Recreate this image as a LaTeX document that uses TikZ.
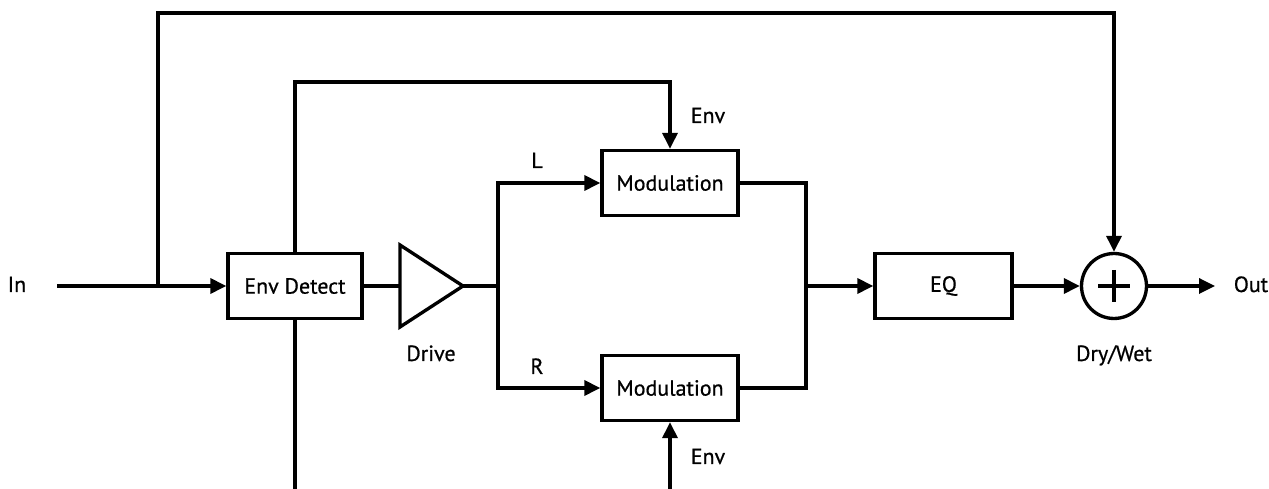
\documentclass[tikz,border=0pt]{standalone}
\usepackage{fontspec}
\setmainfont{PT Sans}[UprightFeatures={FakeBold=0.7}]
\usepackage{tikz}
\usetikzlibrary{positioning, arrows.meta, calc}

\tikzstyle{blk}=[%
      rectangle, draw=black, line width=1.9pt, fill=white,
      minimum height=1.3cm, minimum width=2.72cm, inner sep=0pt
]
\tikzstyle{sum}=[%
      circle, draw=black, line width=1.9pt, fill=white,
      minimum size=1.3cm, inner sep=0pt
]
\tikzstyle{lbl}=[%
      anchor=base, inner sep=0pt
]

\begin{document}
\begin{tikzpicture}[
    x=0.02cm, y=-0.02cm,
    line width=1.9pt,
    >={Triangle[length=0.32cm, width=0.3cm]},
    font=\fontsize{12.5}{15}\selectfont,
]
    \useasboundingbox[fill=white] (0,0) rectangle (1269,489);

    % blocks
    \node[blk, minimum width=2.68cm] (det)  at (295,286)    {Env Detect};
    \node[blk]                       (modL) at (670,183)    {Modulation};
    \node[blk]                       (modR) at (670,388)    {Modulation};
    \node[blk, minimum width=2.74cm] (eq)   at (943.5,286)  {EQ};
    \node[sum]                       (dw)   at (1114,286)   {};
    \draw ($(dw)+(-16,0)$) -- ($(dw)+(16,0)$)
          ($(dw)+(0,-16)$) -- ($(dw)+(0,16)$);

    % drive
    \coordinate (drvIn)  at (400,286);
    \coordinate (drvOut) at (463,286);
    \draw[line join=miter] (400,245) -- (drvOut) -- (400,327) -- cycle;

    % points on the wires
    \coordinate (src)   at (57,286);
    \coordinate (tap)   at (158,286);
    \coordinate (fork)  at (498,286);
    \coordinate (merge) at (806,286);
    \coordinate (sink)  at (1215,286);

    % labels
    \node[lbl] (in)     at (17,292)   {In};
    \node[lbl] (out)    at (1251,292) {Out};
    \node[lbl] (drive)  at (431,361)  {Drive};
    \node[lbl] (drywet) at (1114,361) {Dry/Wet};
    \node[lbl] (lL)     at (537,168)  {L};
    \node[lbl] (lR)     at (537,374)  {R};
    \node[lbl] (envL)   at (708,123)  {Env};
    \node[lbl] (envR)   at (708,464)  {Env};

    % wires
    \draw[->] (src) -- (det.west);
    \draw[->] (tap) -- ++(0,-273) -| (dw.north);
    \draw (det.east) -- (drvIn);
    \draw (drvOut) -- (fork);
    \draw[->] (fork) |- (modL.west);
    \draw[->] (fork) |- (modR.west);
    \draw[->] (det.north) -- ++(0,-170) -| (modL.north);
    \draw[->] (det.south) -- ++(0,180) -| (modR.south);
    \draw (modL.east) -| (merge);
    \draw (modR.east) -| (merge);
    \draw[->] (merge) -- (eq.west);
    \draw[->] (eq.east) -- (dw.west);
    \draw[->] (dw.east) -- (sink);
\end{tikzpicture}
\end{document}
